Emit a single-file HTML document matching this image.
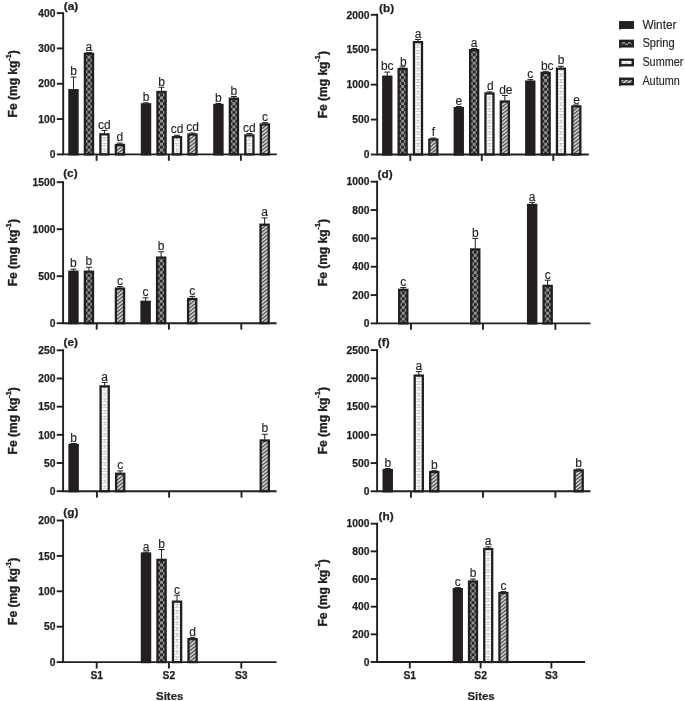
<!DOCTYPE html>
<html><head><meta charset="utf-8"><title>Fe concentrations</title>
<style>html,body{margin:0;padding:0;background:#fff;}body{width:685px;height:701px;overflow:hidden;}svg{display:block;will-change:transform;}text{font-family:"Liberation Sans", sans-serif;fill:#231f20;}.tk{font-size:10.3px;font-weight:bold;stroke:#231f20;stroke-width:0.25px;}.pl{font-size:11.8px;font-weight:bold;stroke:#231f20;stroke-width:0.25px;}.at{font-size:11.4px;font-weight:bold;stroke:#231f20;stroke-width:0.2px;}.sg{font-size:12px;stroke:#231f20;stroke-width:0.15px;}.yt{font-size:12px;stroke:#231f20;stroke-width:0.35px;}.lg{font-size:12px;stroke:#231f20;stroke-width:0.15px;}</style></head><body>
<svg width="685" height="701" viewBox="0 0 685 701">
<defs>
<pattern id="pSpring" patternUnits="userSpaceOnUse" x="-1.45" y="0" width="5.8" height="5.8">
<rect x="0" y="0" width="5.8" height="5.8" fill="#2b2829"/>
<rect x="0" y="0" width="2.9" height="2.9" fill="#929292"/>
<rect x="2.9" y="2.9" width="2.9" height="2.9" fill="#929292"/>
</pattern>
<pattern id="pSummer" patternUnits="userSpaceOnUse" x="-5" y="0" width="10" height="5.8">
<rect x="0" y="0" width="10" height="5.8" fill="#fff"/>
<rect x="0" y="0" width="10" height="0.65" fill="#bcbcbc"/>
<rect x="0" y="2.9" width="10" height="0.65" fill="#bcbcbc"/>
<rect x="4.6" y="0" width="0.8" height="2.9" fill="#a4a4a4"/>
</pattern>
<pattern id="pAutumn" patternUnits="userSpaceOnUse" x="0" y="0" width="2.85" height="2.85" patternTransform="rotate(-38)">
<rect x="0" y="0" width="2.85" height="2.85" fill="#e2e2e2"/>
<rect x="0" y="0" width="2.85" height="1.35" fill="#4a4849"/>
</pattern>
</defs>
<g id="panel-a">
<path d="M73.47 89.55V77.04M70.52 77.04H76.42" stroke="#231f20" stroke-width="1" fill="none"/>
<g transform="translate(73.47,154.4)"><rect x="-4.07" y="-64.2" width="8.14" height="64.2" fill="#231f20" stroke="#231f20" stroke-width="2.3"/></g>
<text class="sg" x="73.47" y="75.24" text-anchor="middle">b</text>
<path d="M88.96 53.16V52.66M86.01 52.66H91.91" stroke="#231f20" stroke-width="1" fill="none"/>
<g transform="translate(88.96,154.4)"><rect x="-4.07" y="-100.59" width="8.14" height="100.59" fill="url(#pSpring)" stroke="#231f20" stroke-width="2.3"/></g>
<text class="sg" x="88.96" y="51.16" text-anchor="middle">a</text>
<path d="M104.44 133.71V130.38M101.49 130.38H107.39" stroke="#231f20" stroke-width="1" fill="none"/>
<g transform="translate(104.44,154.4)"><rect x="-4.07" y="-20.04" width="8.14" height="20.04" fill="url(#pSummer)" stroke="#231f20" stroke-width="2.3"/></g>
<text class="sg" x="104.44" y="128.58" text-anchor="middle">cd</text>
<path d="M119.93 144.3V143.1M116.98 143.1H122.88" stroke="#231f20" stroke-width="1" fill="none"/>
<g transform="translate(119.93,154.4)"><rect x="-4.07" y="-9.45" width="8.14" height="9.45" fill="url(#pAutumn)" stroke="#231f20" stroke-width="2.3"/></g>
<text class="sg" x="119.93" y="141.3" text-anchor="middle">d</text>
<path d="M146.02 103.68V102.83M143.07 102.83H148.97" stroke="#231f20" stroke-width="1" fill="none"/>
<g transform="translate(146.02,154.4)"><rect x="-4.07" y="-50.07" width="8.14" height="50.07" fill="#231f20" stroke="#231f20" stroke-width="2.3"/></g>
<text class="sg" x="146.02" y="101.33" text-anchor="middle">b</text>
<path d="M161.51 91.31V87.28M158.56 87.28H164.46" stroke="#231f20" stroke-width="1" fill="none"/>
<g transform="translate(161.51,154.4)"><rect x="-4.07" y="-62.44" width="8.14" height="62.44" fill="url(#pSpring)" stroke="#231f20" stroke-width="2.3"/></g>
<text class="sg" x="161.51" y="86.28" text-anchor="middle">b</text>
<path d="M176.99 136.53V135.32M174.04 135.32H179.94" stroke="#231f20" stroke-width="1" fill="none"/>
<g transform="translate(176.99,154.4)"><rect x="-4.07" y="-17.22" width="8.14" height="17.22" fill="url(#pSummer)" stroke="#231f20" stroke-width="2.3"/></g>
<text class="sg" x="176.99" y="133.12" text-anchor="middle">cd</text>
<path d="M192.48 133.88V133.03M189.53 133.03H195.43" stroke="#231f20" stroke-width="1" fill="none"/>
<g transform="translate(192.48,154.4)"><rect x="-4.07" y="-19.87" width="8.14" height="19.87" fill="url(#pAutumn)" stroke="#231f20" stroke-width="2.3"/></g>
<text class="sg" x="192.48" y="130.93" text-anchor="middle">cd</text>
<path d="M218.42 104.39V103.53M215.47 103.53H221.37" stroke="#231f20" stroke-width="1" fill="none"/>
<g transform="translate(218.42,154.4)"><rect x="-4.07" y="-49.36" width="8.14" height="49.36" fill="#231f20" stroke="#231f20" stroke-width="2.3"/></g>
<text class="sg" x="218.42" y="102.03" text-anchor="middle">b</text>
<path d="M233.91 98.03V96.47M230.96 96.47H236.86" stroke="#231f20" stroke-width="1" fill="none"/>
<g transform="translate(233.91,154.4)"><rect x="-4.07" y="-55.72" width="8.14" height="55.72" fill="url(#pSpring)" stroke="#231f20" stroke-width="2.3"/></g>
<text class="sg" x="233.91" y="95.07" text-anchor="middle">b</text>
<path d="M249.39 134.76V133.56M246.44 133.56H252.34" stroke="#231f20" stroke-width="1" fill="none"/>
<g transform="translate(249.39,154.4)"><rect x="-4.07" y="-18.99" width="8.14" height="18.99" fill="url(#pSummer)" stroke="#231f20" stroke-width="2.3"/></g>
<text class="sg" x="249.39" y="131.76" text-anchor="middle">cd</text>
<path d="M264.88 123.81V122.61M261.93 122.61H267.83" stroke="#231f20" stroke-width="1" fill="none"/>
<g transform="translate(264.88,154.4)"><rect x="-4.07" y="-29.94" width="8.14" height="29.94" fill="url(#pAutumn)" stroke="#231f20" stroke-width="2.3"/></g>
<text class="sg" x="264.88" y="121.11" text-anchor="middle">c</text>
<path d="M63.2 12.15V154.4H276.8" stroke="#231f20" stroke-width="1.9" fill="none" stroke-linejoin="miter"/>
<path d="M56.8 154.4H63.2" stroke="#231f20" stroke-width="1.9"/>
<text class="tk" x="55.5" y="158.1" text-anchor="end">0</text>
<path d="M56.8 119.08H63.2" stroke="#231f20" stroke-width="1.9"/>
<text class="tk" x="55.5" y="122.78" text-anchor="end">100</text>
<path d="M56.8 83.75H63.2" stroke="#231f20" stroke-width="1.9"/>
<text class="tk" x="55.5" y="87.45" text-anchor="end">200</text>
<path d="M56.8 48.42H63.2" stroke="#231f20" stroke-width="1.9"/>
<text class="tk" x="55.5" y="52.12" text-anchor="end">300</text>
<path d="M56.8 13.1H63.2" stroke="#231f20" stroke-width="1.9"/>
<text class="tk" x="55.5" y="16.8" text-anchor="end">400</text>
<path d="M96.6 154.4V160.8" stroke="#231f20" stroke-width="1.9"/>
<path d="M168.8 154.4V160.8" stroke="#231f20" stroke-width="1.9"/>
<path d="M240.9 154.4V160.8" stroke="#231f20" stroke-width="1.9"/>
<text class="pl" x="63.8" y="9.8">(a)</text>
<text class="at yt" transform="translate(17.3,83.75) rotate(-90)" text-anchor="middle">Fe (mg kg<tspan font-size="7.4px" dy="-6.5">-1</tspan><tspan dy="6.5">)</tspan></text>
</g>
<g id="panel-b">
<path d="M387.28 76.07V72.08M384.33 72.08H390.23" stroke="#231f20" stroke-width="1" fill="none"/>
<g transform="translate(387.28,154.5)"><rect x="-4.02" y="-77.78" width="8.05" height="77.78" fill="#231f20" stroke="#231f20" stroke-width="2.3"/></g>
<text class="sg" x="387.28" y="70.28" text-anchor="middle">bc</text>
<path d="M402.63 68.39V66.84M399.68 66.84H405.58" stroke="#231f20" stroke-width="1" fill="none"/>
<g transform="translate(402.63,154.5)"><rect x="-4.02" y="-85.46" width="8.05" height="85.46" fill="url(#pSpring)" stroke="#231f20" stroke-width="2.3"/></g>
<text class="sg" x="403.43" y="66.04" text-anchor="middle">b</text>
<path d="M417.97 41.49V39.46M415.02 39.46H420.92" stroke="#231f20" stroke-width="1" fill="none"/>
<g transform="translate(417.97,154.5)"><rect x="-4.02" y="-112.36" width="8.05" height="112.36" fill="url(#pSummer)" stroke="#231f20" stroke-width="2.3"/></g>
<text class="sg" x="417.97" y="37.66" text-anchor="middle">a</text>
<path d="M433.32 138.93V138.02M430.37 138.02H436.27" stroke="#231f20" stroke-width="1" fill="none"/>
<g transform="translate(433.32,154.5)"><rect x="-4.02" y="-14.92" width="8.05" height="14.92" fill="url(#pAutumn)" stroke="#231f20" stroke-width="2.3"/></g>
<text class="sg" x="433.32" y="136.22" text-anchor="middle">f</text>
<path d="M458.78 107.5V106.44M455.83 106.44H461.73" stroke="#231f20" stroke-width="1" fill="none"/>
<g transform="translate(458.78,154.5)"><rect x="-4.02" y="-46.35" width="8.05" height="46.35" fill="#231f20" stroke="#231f20" stroke-width="2.3"/></g>
<text class="sg" x="458.78" y="104.64" text-anchor="middle">e</text>
<path d="M474.13 49.53V48.47M471.18 48.47H477.08" stroke="#231f20" stroke-width="1" fill="none"/>
<g transform="translate(474.13,154.5)"><rect x="-4.02" y="-104.32" width="8.05" height="104.32" fill="url(#pSpring)" stroke="#231f20" stroke-width="2.3"/></g>
<text class="sg" x="474.13" y="46.67" text-anchor="middle">a</text>
<path d="M489.47 92.83V91.91M486.52 91.91H492.42" stroke="#231f20" stroke-width="1" fill="none"/>
<g transform="translate(489.47,154.5)"><rect x="-4.02" y="-61.02" width="8.05" height="61.02" fill="url(#pSummer)" stroke="#231f20" stroke-width="2.3"/></g>
<text class="sg" x="490.27" y="90.41" text-anchor="middle">d</text>
<path d="M504.82 100.87V95.48M501.87 95.48H507.77" stroke="#231f20" stroke-width="1" fill="none"/>
<g transform="translate(504.82,154.5)"><rect x="-4.02" y="-52.98" width="8.05" height="52.98" fill="url(#pAutumn)" stroke="#231f20" stroke-width="2.3"/></g>
<text class="sg" x="505.82" y="94.18" text-anchor="middle">de</text>
<path d="M530.28 80.96V79.62M527.33 79.62H533.23" stroke="#231f20" stroke-width="1" fill="none"/>
<g transform="translate(530.28,154.5)"><rect x="-4.02" y="-72.89" width="8.05" height="72.89" fill="#231f20" stroke="#231f20" stroke-width="2.3"/></g>
<text class="sg" x="530.28" y="77.82" text-anchor="middle">c</text>
<path d="M545.63 72.23V71.31M542.68 71.31H548.58" stroke="#231f20" stroke-width="1" fill="none"/>
<g transform="translate(545.63,154.5)"><rect x="-4.02" y="-81.62" width="8.05" height="81.62" fill="url(#pSpring)" stroke="#231f20" stroke-width="2.3"/></g>
<text class="sg" x="547.23" y="69.51" text-anchor="middle">bc</text>
<path d="M560.97 68.04V66.28M558.02 66.28H563.92" stroke="#231f20" stroke-width="1" fill="none"/>
<g transform="translate(560.97,154.5)"><rect x="-4.02" y="-85.81" width="8.05" height="85.81" fill="url(#pSummer)" stroke="#231f20" stroke-width="2.3"/></g>
<text class="sg" x="560.97" y="64.48" text-anchor="middle">b</text>
<path d="M576.32 105.76V104.98M573.37 104.98H579.27" stroke="#231f20" stroke-width="1" fill="none"/>
<g transform="translate(576.32,154.5)"><rect x="-4.02" y="-48.09" width="8.05" height="48.09" fill="url(#pAutumn)" stroke="#231f20" stroke-width="2.3"/></g>
<text class="sg" x="576.62" y="104.38" text-anchor="middle">e</text>
<path d="M377.2 13.85V154.5H588.8" stroke="#231f20" stroke-width="1.9" fill="none" stroke-linejoin="miter"/>
<path d="M370.8 154.5H377.2" stroke="#231f20" stroke-width="1.9"/>
<text class="tk" x="369.5" y="158.2" text-anchor="end">0</text>
<path d="M370.8 119.58H377.2" stroke="#231f20" stroke-width="1.9"/>
<text class="tk" x="369.5" y="123.28" text-anchor="end">500</text>
<path d="M370.8 84.65H377.2" stroke="#231f20" stroke-width="1.9"/>
<text class="tk" x="369.5" y="88.35" text-anchor="end">1000</text>
<path d="M370.8 49.73H377.2" stroke="#231f20" stroke-width="1.9"/>
<text class="tk" x="369.5" y="53.43" text-anchor="end">1500</text>
<path d="M370.8 14.8H377.2" stroke="#231f20" stroke-width="1.9"/>
<text class="tk" x="369.5" y="18.5" text-anchor="end">2000</text>
<path d="M410.3 154.5V160.9" stroke="#231f20" stroke-width="1.9"/>
<path d="M481.8 154.5V160.9" stroke="#231f20" stroke-width="1.9"/>
<path d="M553.3 154.5V160.9" stroke="#231f20" stroke-width="1.9"/>
<text class="pl" x="379" y="12.1">(b)</text>
<text class="at yt" transform="translate(326.7,84.65) rotate(-90)" text-anchor="middle">Fe (mg kg<tspan font-size="7.4px" dy="-6.5">-1</tspan><tspan dy="6.5">)</tspan></text>
</g>
<g id="panel-c">
<path d="M73.42 271.06V269.15M70.47 269.15H76.37" stroke="#231f20" stroke-width="1" fill="none"/>
<g transform="translate(73.42,323.2)"><rect x="-4.08" y="-51.49" width="8.16" height="51.49" fill="#231f20" stroke="#231f20" stroke-width="2.3"/></g>
<text class="sg" x="73.42" y="267.35" text-anchor="middle">b</text>
<path d="M88.94 271.06V267.27M85.99 267.27H91.89" stroke="#231f20" stroke-width="1" fill="none"/>
<g transform="translate(88.94,323.2)"><rect x="-4.08" y="-51.49" width="8.16" height="51.49" fill="url(#pSpring)" stroke="#231f20" stroke-width="2.3"/></g>
<text class="sg" x="88.94" y="265.47" text-anchor="middle">b</text>
<path d="M119.98 287.98V286.54M117.03 286.54H122.93" stroke="#231f20" stroke-width="1" fill="none"/>
<g transform="translate(119.98,323.2)"><rect x="-4.08" y="-34.57" width="8.16" height="34.57" fill="url(#pAutumn)" stroke="#231f20" stroke-width="2.3"/></g>
<text class="sg" x="119.98" y="284.74" text-anchor="middle">c</text>
<path d="M145.62 301.14V297.82M142.67 297.82H148.57" stroke="#231f20" stroke-width="1" fill="none"/>
<g transform="translate(145.62,323.2)"><rect x="-4.08" y="-21.41" width="8.16" height="21.41" fill="#231f20" stroke="#231f20" stroke-width="2.3"/></g>
<text class="sg" x="145.62" y="296.02" text-anchor="middle">c</text>
<path d="M161.14 256.96V251.76M158.19 251.76H164.09" stroke="#231f20" stroke-width="1" fill="none"/>
<g transform="translate(161.14,323.2)"><rect x="-4.08" y="-65.59" width="8.16" height="65.59" fill="url(#pSpring)" stroke="#231f20" stroke-width="2.3"/></g>
<text class="sg" x="161.14" y="249.96" text-anchor="middle">b</text>
<path d="M192.18 298.32V296.41M189.23 296.41H195.13" stroke="#231f20" stroke-width="1" fill="none"/>
<g transform="translate(192.18,323.2)"><rect x="-4.08" y="-24.23" width="8.16" height="24.23" fill="url(#pAutumn)" stroke="#231f20" stroke-width="2.3"/></g>
<text class="sg" x="192.18" y="294.61" text-anchor="middle">c</text>
<path d="M264.58 224.06V217.92M261.63 217.92H267.53" stroke="#231f20" stroke-width="1" fill="none"/>
<g transform="translate(264.58,323.2)"><rect x="-4.08" y="-98.49" width="8.16" height="98.49" fill="url(#pAutumn)" stroke="#231f20" stroke-width="2.3"/></g>
<text class="sg" x="264.58" y="216.12" text-anchor="middle">a</text>
<path d="M63.1 181.25V323.2H276.6" stroke="#231f20" stroke-width="1.9" fill="none" stroke-linejoin="miter"/>
<path d="M56.7 323.2H63.1" stroke="#231f20" stroke-width="1.9"/>
<text class="tk" x="55.4" y="326.9" text-anchor="end">0</text>
<path d="M56.7 276.2H63.1" stroke="#231f20" stroke-width="1.9"/>
<text class="tk" x="55.4" y="279.9" text-anchor="end">500</text>
<path d="M56.7 229.2H63.1" stroke="#231f20" stroke-width="1.9"/>
<text class="tk" x="55.4" y="232.9" text-anchor="end">1000</text>
<path d="M56.7 182.2H63.1" stroke="#231f20" stroke-width="1.9"/>
<text class="tk" x="55.4" y="185.9" text-anchor="end">1500</text>
<path d="M96.7 323.2V329.6" stroke="#231f20" stroke-width="1.9"/>
<path d="M168.9 323.2V329.6" stroke="#231f20" stroke-width="1.9"/>
<path d="M241.3 323.2V329.6" stroke="#231f20" stroke-width="1.9"/>
<text class="pl" x="63.2" y="177.1">(c)</text>
<text class="at yt" transform="translate(17.3,252.7) rotate(-90)" text-anchor="middle">Fe (mg kg<tspan font-size="7.4px" dy="-6.5">-1</tspan><tspan dy="6.5">)</tspan></text>
</g>
<g id="panel-d">
<path d="M403.25 289.18V287.55M400.3 287.55H406.2" stroke="#231f20" stroke-width="1" fill="none"/>
<g transform="translate(403.25,323.4)"><rect x="-4.07" y="-33.57" width="8.15" height="33.57" fill="url(#pSpring)" stroke="#231f20" stroke-width="2.3"/></g>
<text class="sg" x="403.25" y="286.35" text-anchor="middle">c</text>
<path d="M475.25 248.8V238.38M472.3 238.38H478.2" stroke="#231f20" stroke-width="1" fill="none"/>
<g transform="translate(475.25,323.4)"><rect x="-4.07" y="-73.95" width="8.15" height="73.95" fill="url(#pSpring)" stroke="#231f20" stroke-width="2.3"/></g>
<text class="sg" x="475.25" y="236.58" text-anchor="middle">b</text>
<path d="M532.15 204.31V202.39M529.2 202.39H535.1" stroke="#231f20" stroke-width="1" fill="none"/>
<g transform="translate(532.15,323.4)"><rect x="-4.07" y="-118.44" width="8.15" height="118.44" fill="#231f20" stroke="#231f20" stroke-width="2.3"/></g>
<text class="sg" x="532.15" y="200.59" text-anchor="middle">a</text>
<path d="M547.65 285.22V280.18M544.7 280.18H550.6" stroke="#231f20" stroke-width="1" fill="none"/>
<g transform="translate(547.65,323.4)"><rect x="-4.07" y="-37.53" width="8.15" height="37.53" fill="url(#pSpring)" stroke="#231f20" stroke-width="2.3"/></g>
<text class="sg" x="547.65" y="278.98" text-anchor="middle">c</text>
<path d="M377.1 180.75V323.4H590.5" stroke="#231f20" stroke-width="1.9" fill="none" stroke-linejoin="miter"/>
<path d="M370.7 323.4H377.1" stroke="#231f20" stroke-width="1.9"/>
<text class="tk" x="369.4" y="327.1" text-anchor="end">0</text>
<path d="M370.7 295.06H377.1" stroke="#231f20" stroke-width="1.9"/>
<text class="tk" x="369.4" y="298.76" text-anchor="end">200</text>
<path d="M370.7 266.72H377.1" stroke="#231f20" stroke-width="1.9"/>
<text class="tk" x="369.4" y="270.42" text-anchor="end">400</text>
<path d="M370.7 238.38H377.1" stroke="#231f20" stroke-width="1.9"/>
<text class="tk" x="369.4" y="242.08" text-anchor="end">600</text>
<path d="M370.7 210.04H377.1" stroke="#231f20" stroke-width="1.9"/>
<text class="tk" x="369.4" y="213.74" text-anchor="end">800</text>
<path d="M370.7 181.7H377.1" stroke="#231f20" stroke-width="1.9"/>
<text class="tk" x="369.4" y="185.4" text-anchor="end">1000</text>
<path d="M411 323.4V329.8" stroke="#231f20" stroke-width="1.9"/>
<path d="M483 323.4V329.8" stroke="#231f20" stroke-width="1.9"/>
<path d="M555.4 323.4V329.8" stroke="#231f20" stroke-width="1.9"/>
<text class="pl" x="377.6" y="177.8">(d)</text>
<text class="at yt" transform="translate(326.7,252.55) rotate(-90)" text-anchor="middle">Fe (mg kg<tspan font-size="7.4px" dy="-6.5">-1</tspan><tspan dy="6.5">)</tspan></text>
</g>
<g id="panel-e">
<path d="M73.62 444.24V443.46M70.67 443.46H76.57" stroke="#231f20" stroke-width="1" fill="none"/>
<g transform="translate(73.62,491.2)"><rect x="-4.08" y="-46.31" width="8.16" height="46.31" fill="#231f20" stroke="#231f20" stroke-width="2.3"/></g>
<text class="sg" x="73.62" y="442.06" text-anchor="middle">b</text>
<path d="M104.66 385.74V382.43M101.71 382.43H107.61" stroke="#231f20" stroke-width="1" fill="none"/>
<g transform="translate(104.66,491.2)"><rect x="-4.08" y="-104.81" width="8.16" height="104.81" fill="url(#pSummer)" stroke="#231f20" stroke-width="2.3"/></g>
<text class="sg" x="104.66" y="380.63" text-anchor="middle">a</text>
<path d="M120.18 473.1V470.91M117.23 470.91H123.13" stroke="#231f20" stroke-width="1" fill="none"/>
<g transform="translate(120.18,491.2)"><rect x="-4.08" y="-17.45" width="8.16" height="17.45" fill="url(#pAutumn)" stroke="#231f20" stroke-width="2.3"/></g>
<text class="sg" x="120.18" y="469.11" text-anchor="middle">c</text>
<path d="M264.78 439.85V434.28M261.83 434.28H267.73" stroke="#231f20" stroke-width="1" fill="none"/>
<g transform="translate(264.78,491.2)"><rect x="-4.08" y="-50.7" width="8.16" height="50.7" fill="url(#pAutumn)" stroke="#231f20" stroke-width="2.3"/></g>
<text class="sg" x="264.78" y="432.48" text-anchor="middle">b</text>
<path d="M63.1 349.35V491.2H276.6" stroke="#231f20" stroke-width="1.9" fill="none" stroke-linejoin="miter"/>
<path d="M56.7 491.2H63.1" stroke="#231f20" stroke-width="1.9"/>
<text class="tk" x="55.4" y="494.9" text-anchor="end">0</text>
<path d="M56.7 463.02H63.1" stroke="#231f20" stroke-width="1.9"/>
<text class="tk" x="55.4" y="466.72" text-anchor="end">50</text>
<path d="M56.7 434.84H63.1" stroke="#231f20" stroke-width="1.9"/>
<text class="tk" x="55.4" y="438.54" text-anchor="end">100</text>
<path d="M56.7 406.66H63.1" stroke="#231f20" stroke-width="1.9"/>
<text class="tk" x="55.4" y="410.36" text-anchor="end">150</text>
<path d="M56.7 378.48H63.1" stroke="#231f20" stroke-width="1.9"/>
<text class="tk" x="55.4" y="382.18" text-anchor="end">200</text>
<path d="M56.7 350.3H63.1" stroke="#231f20" stroke-width="1.9"/>
<text class="tk" x="55.4" y="354" text-anchor="end">250</text>
<path d="M96.9 491.2V497.6" stroke="#231f20" stroke-width="1.9"/>
<path d="M169.1 491.2V497.6" stroke="#231f20" stroke-width="1.9"/>
<path d="M241.5 491.2V497.6" stroke="#231f20" stroke-width="1.9"/>
<text class="pl" x="63.5" y="345.8">(e)</text>
<text class="at yt" transform="translate(17.3,420.75) rotate(-90)" text-anchor="middle">Fe (mg kg<tspan font-size="7.4px" dy="-6.5">-1</tspan><tspan dy="6.5">)</tspan></text>
</g>
<g id="panel-f">
<path d="M387.75 469.49V468.54M384.8 468.54H390.7" stroke="#231f20" stroke-width="1" fill="none"/>
<g transform="translate(387.75,491.3)"><rect x="-4.07" y="-21.16" width="8.15" height="21.16" fill="#231f20" stroke="#231f20" stroke-width="2.3"/></g>
<text class="sg" x="387.75" y="466.74" text-anchor="middle">b</text>
<path d="M418.75 374.94V371.62M415.8 371.62H421.7" stroke="#231f20" stroke-width="1" fill="none"/>
<g transform="translate(418.75,491.3)"><rect x="-4.07" y="-115.71" width="8.15" height="115.71" fill="url(#pSummer)" stroke="#231f20" stroke-width="2.3"/></g>
<text class="sg" x="418.75" y="369.82" text-anchor="middle">a</text>
<path d="M434.25 471.47V470.68M431.3 470.68H437.2" stroke="#231f20" stroke-width="1" fill="none"/>
<g transform="translate(434.25,491.3)"><rect x="-4.07" y="-19.18" width="8.15" height="19.18" fill="url(#pAutumn)" stroke="#231f20" stroke-width="2.3"/></g>
<text class="sg" x="434.25" y="468.88" text-anchor="middle">b</text>
<path d="M578.65 469.77V468.99M575.7 468.99H581.6" stroke="#231f20" stroke-width="1" fill="none"/>
<g transform="translate(578.65,491.3)"><rect x="-4.07" y="-20.88" width="8.15" height="20.88" fill="url(#pAutumn)" stroke="#231f20" stroke-width="2.3"/></g>
<text class="sg" x="578.65" y="467.19" text-anchor="middle">b</text>
<path d="M377.1 349.15V491.3H590.5" stroke="#231f20" stroke-width="1.9" fill="none" stroke-linejoin="miter"/>
<path d="M370.7 491.3H377.1" stroke="#231f20" stroke-width="1.9"/>
<text class="tk" x="369.4" y="495" text-anchor="end">0</text>
<path d="M370.7 463.06H377.1" stroke="#231f20" stroke-width="1.9"/>
<text class="tk" x="369.4" y="466.76" text-anchor="end">500</text>
<path d="M370.7 434.82H377.1" stroke="#231f20" stroke-width="1.9"/>
<text class="tk" x="369.4" y="438.52" text-anchor="end">1000</text>
<path d="M370.7 406.58H377.1" stroke="#231f20" stroke-width="1.9"/>
<text class="tk" x="369.4" y="410.28" text-anchor="end">1500</text>
<path d="M370.7 378.34H377.1" stroke="#231f20" stroke-width="1.9"/>
<text class="tk" x="369.4" y="382.04" text-anchor="end">2000</text>
<path d="M370.7 350.1H377.1" stroke="#231f20" stroke-width="1.9"/>
<text class="tk" x="369.4" y="353.8" text-anchor="end">2500</text>
<path d="M411 491.3V497.7" stroke="#231f20" stroke-width="1.9"/>
<path d="M483 491.3V497.7" stroke="#231f20" stroke-width="1.9"/>
<path d="M555.4 491.3V497.7" stroke="#231f20" stroke-width="1.9"/>
<text class="pl" x="377.8" y="345.8">(f)</text>
<text class="at yt" transform="translate(326.7,420.7) rotate(-90)" text-anchor="middle">Fe (mg kg<tspan font-size="7.4px" dy="-6.5">-1</tspan><tspan dy="6.5">)</tspan></text>
</g>
<g id="panel-g">
<path d="M146.02 552.86V552.01M143.07 552.01H148.97" stroke="#231f20" stroke-width="1" fill="none"/>
<g transform="translate(146.02,662.1)"><rect x="-4.08" y="-108.59" width="8.16" height="108.59" fill="#231f20" stroke="#231f20" stroke-width="2.3"/></g>
<text class="sg" x="146.02" y="550.71" text-anchor="middle">a</text>
<path d="M161.54 559.23V549.53M158.59 549.53H164.49" stroke="#231f20" stroke-width="1" fill="none"/>
<g transform="translate(161.54,662.1)"><rect x="-4.08" y="-102.22" width="8.16" height="102.22" fill="url(#pSpring)" stroke="#231f20" stroke-width="2.3"/></g>
<text class="sg" x="161.54" y="548.03" text-anchor="middle">b</text>
<path d="M177.06 601V595.19M174.11 595.19H180.01" stroke="#231f20" stroke-width="1" fill="none"/>
<g transform="translate(177.06,662.1)"><rect x="-4.08" y="-60.45" width="8.16" height="60.45" fill="url(#pSummer)" stroke="#231f20" stroke-width="2.3"/></g>
<text class="sg" x="177.06" y="593.79" text-anchor="middle">c</text>
<path d="M192.58 638.53V637.32M189.63 637.32H195.53" stroke="#231f20" stroke-width="1" fill="none"/>
<g transform="translate(192.58,662.1)"><rect x="-4.08" y="-22.92" width="8.16" height="22.92" fill="url(#pAutumn)" stroke="#231f20" stroke-width="2.3"/></g>
<text class="sg" x="192.58" y="635.52" text-anchor="middle">d</text>
<path d="M63.1 519.55V662.1H276.6" stroke="#231f20" stroke-width="1.9" fill="none" stroke-linejoin="miter"/>
<path d="M56.7 662.1H63.1" stroke="#231f20" stroke-width="1.9"/>
<text class="tk" x="55.4" y="665.8" text-anchor="end">0</text>
<path d="M56.7 626.7H63.1" stroke="#231f20" stroke-width="1.9"/>
<text class="tk" x="55.4" y="630.4" text-anchor="end">50</text>
<path d="M56.7 591.3H63.1" stroke="#231f20" stroke-width="1.9"/>
<text class="tk" x="55.4" y="595" text-anchor="end">100</text>
<path d="M56.7 555.9H63.1" stroke="#231f20" stroke-width="1.9"/>
<text class="tk" x="55.4" y="559.6" text-anchor="end">150</text>
<path d="M56.7 520.5H63.1" stroke="#231f20" stroke-width="1.9"/>
<text class="tk" x="55.4" y="524.2" text-anchor="end">200</text>
<path d="M96.7 662.1V668.5" stroke="#231f20" stroke-width="1.9"/>
<text class="tk" x="96.7" y="679.3" text-anchor="middle">S1</text>
<path d="M168.9 662.1V668.5" stroke="#231f20" stroke-width="1.9"/>
<text class="tk" x="168.9" y="679.3" text-anchor="middle">S2</text>
<path d="M241.3 662.1V668.5" stroke="#231f20" stroke-width="1.9"/>
<text class="tk" x="241.3" y="679.3" text-anchor="middle">S3</text>
<text class="pl" x="63.3" y="516">(g)</text>
<text class="at yt" transform="translate(17.3,591.3) rotate(-90)" text-anchor="middle">Fe (mg kg<tspan font-size="7.4px" dy="-6.5">-1</tspan><tspan dy="6.5">)</tspan></text>
<text class="at" x="169.7" y="700.4" text-anchor="middle">Sites</text>
</g>
<g id="panel-h">
<path d="M457.8 588.51V587.59M454.85 587.59H460.75" stroke="#231f20" stroke-width="1" fill="none"/>
<g transform="translate(457.8,662)"><rect x="-3.97" y="-72.84" width="7.95" height="72.84" fill="#231f20" stroke="#231f20" stroke-width="2.3"/></g>
<text class="sg" x="457.8" y="585.79" text-anchor="middle">c</text>
<path d="M473 580.9V579.02M470.05 579.02H475.95" stroke="#231f20" stroke-width="1" fill="none"/>
<g transform="translate(473,662)"><rect x="-3.97" y="-80.45" width="7.95" height="80.45" fill="url(#pSpring)" stroke="#231f20" stroke-width="2.3"/></g>
<text class="sg" x="473" y="577.22" text-anchor="middle">b</text>
<path d="M488.2 548.4V546.8M485.25 546.8H491.15" stroke="#231f20" stroke-width="1" fill="none"/>
<g transform="translate(488.2,662)"><rect x="-3.97" y="-112.95" width="7.95" height="112.95" fill="url(#pSummer)" stroke="#231f20" stroke-width="2.3"/></g>
<text class="sg" x="488.2" y="545" text-anchor="middle">a</text>
<path d="M503.4 592.38V591.61M500.45 591.61H506.35" stroke="#231f20" stroke-width="1" fill="none"/>
<g transform="translate(503.4,662)"><rect x="-3.97" y="-68.97" width="7.95" height="68.97" fill="url(#pAutumn)" stroke="#231f20" stroke-width="2.3"/></g>
<text class="sg" x="503.4" y="589.81" text-anchor="middle">c</text>
<path d="M377.1 522.75V662H585" stroke="#231f20" stroke-width="1.9" fill="none" stroke-linejoin="miter"/>
<path d="M370.7 662H377.1" stroke="#231f20" stroke-width="1.9"/>
<text class="tk" x="369.4" y="665.7" text-anchor="end">0</text>
<path d="M370.7 634.34H377.1" stroke="#231f20" stroke-width="1.9"/>
<text class="tk" x="369.4" y="638.04" text-anchor="end">200</text>
<path d="M370.7 606.68H377.1" stroke="#231f20" stroke-width="1.9"/>
<text class="tk" x="369.4" y="610.38" text-anchor="end">400</text>
<path d="M370.7 579.02H377.1" stroke="#231f20" stroke-width="1.9"/>
<text class="tk" x="369.4" y="582.72" text-anchor="end">600</text>
<path d="M370.7 551.36H377.1" stroke="#231f20" stroke-width="1.9"/>
<text class="tk" x="369.4" y="555.06" text-anchor="end">800</text>
<path d="M370.7 523.7H377.1" stroke="#231f20" stroke-width="1.9"/>
<text class="tk" x="369.4" y="527.4" text-anchor="end">1000</text>
<path d="M409.8 662V668.4" stroke="#231f20" stroke-width="1.9"/>
<text class="tk" x="409.8" y="679.2" text-anchor="middle">S1</text>
<path d="M480.6 662V668.4" stroke="#231f20" stroke-width="1.9"/>
<text class="tk" x="480.6" y="679.2" text-anchor="middle">S2</text>
<path d="M551.4 662V668.4" stroke="#231f20" stroke-width="1.9"/>
<text class="tk" x="551.4" y="679.2" text-anchor="middle">S3</text>
<text class="pl" x="378.6" y="520">(h)</text>
<text class="at yt" transform="translate(326.7,592.85) rotate(-90)" text-anchor="middle">Fe (mg kg<tspan font-size="7.4px" dy="-6.5">-1</tspan><tspan dy="6.5">)</tspan></text>
<text class="at" x="481.1" y="700.4" text-anchor="middle">Sites</text>
</g>
<g transform="translate(626.5,25)"><rect x="-6.25" y="-2.75" width="12.5" height="5.5" fill="#231f20" stroke="#231f20" stroke-width="2.4"/><rect x="-7.45" y="3.8" width="1.7" height="0.8" fill="#231f20"/></g>
<text class="lg" x="642.4" y="28.5" textLength="34" lengthAdjust="spacingAndGlyphs">Winter</text>
<g transform="translate(626.5,43.6)"><rect x="-6.25" y="-2.75" width="12.5" height="5.5" fill="url(#pSpring)" stroke="#231f20" stroke-width="2.4"/><rect x="-7.45" y="3.8" width="1.7" height="0.8" fill="#231f20"/></g>
<text class="lg" x="642.4" y="46.9" textLength="32.2" lengthAdjust="spacingAndGlyphs">Spring</text>
<g transform="translate(626.5,62.5)"><rect x="-6.25" y="-2.75" width="12.5" height="5.5" fill="url(#pSummer)" stroke="#231f20" stroke-width="2.4"/><rect x="-7.45" y="3.8" width="1.7" height="0.8" fill="#231f20"/></g>
<text class="lg" x="642.4" y="65.8" textLength="40.9" lengthAdjust="spacingAndGlyphs">Summer</text>
<g transform="translate(626.5,81.5)"><rect x="-6.25" y="-2.75" width="12.5" height="5.5" fill="url(#pAutumn)" stroke="#231f20" stroke-width="2.4"/><rect x="-7.45" y="3.8" width="1.7" height="0.8" fill="#231f20"/></g>
<text class="lg" x="642.4" y="84.7" textLength="37.3" lengthAdjust="spacingAndGlyphs">Autumn</text>
</svg></body></html>
